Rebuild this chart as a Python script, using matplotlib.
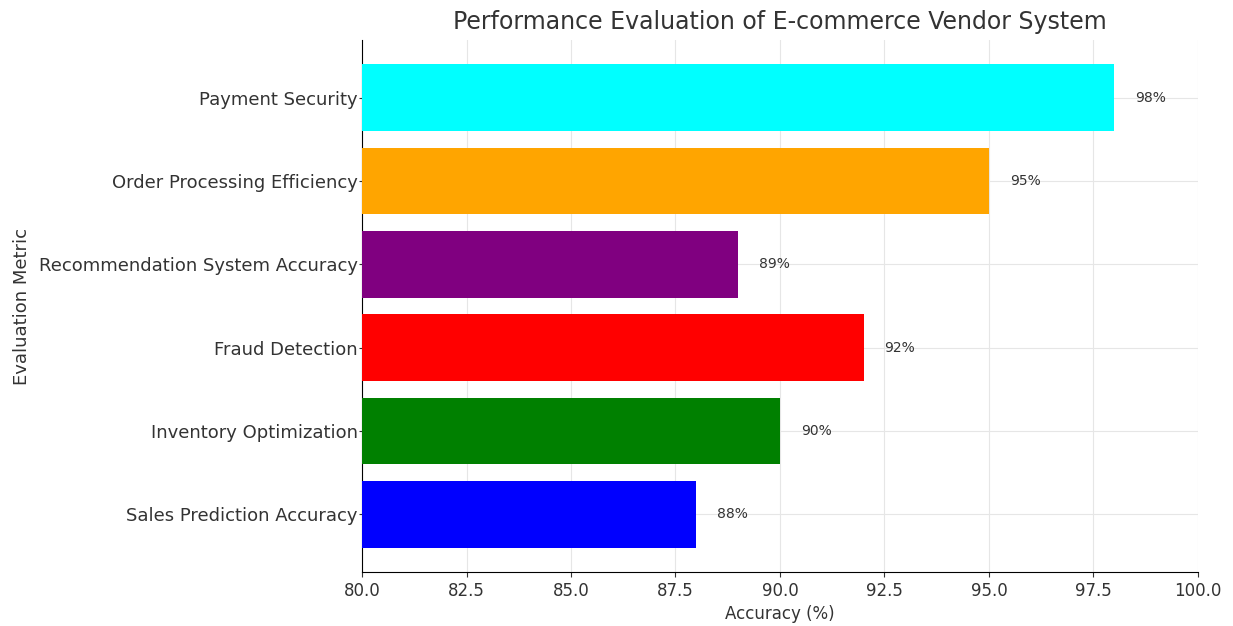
import matplotlib.pyplot as plt

# metrics from bottom to top
metrics = ["Sales Prediction Accuracy", "Inventory Optimization", "Fraud Detection",
           "Recommendation System Accuracy", "Order Processing Efficiency", "Payment Security"]
accuracy = [88, 90, 92, 89, 95, 98]
colors = ["blue", "green", "red", "purple", "orange", "cyan"]

fig = plt.figure(figsize=(12.33, 6.26), dpi=100)
ax = fig.add_axes([0.2936, 0.0863, 0.678, 0.8497])

bars = ax.barh(metrics, accuracy, color=colors, zorder=3)
for i, v in enumerate(accuracy):
    ax.text(v + 0.5, i, f"{v}%", va="center", ha="left", fontsize=10, color="#333333")

ax.set_xlim(80, 100)
ax.set_xlabel("Accuracy (%)", fontsize=12, color="#333333")
ax.set_ylabel("Evaluation Metric", fontsize=13, color="#333333", labelpad=6)
ax.set_title("Performance Evaluation of E-commerce Vendor System", fontsize=17,
             color="#333333", pad=8)
ax.tick_params(axis="x", labelsize=12, colors="#333333")
ax.tick_params(axis="y", labelsize=13, colors="#333333", length=2, pad=1)
ax.grid(True, color="#e6e6e6", linewidth=0.8, zorder=0)
ax.spines["top"].set_visible(False)
ax.spines["right"].set_visible(False)

fig.savefig("out.png", dpi=100)
